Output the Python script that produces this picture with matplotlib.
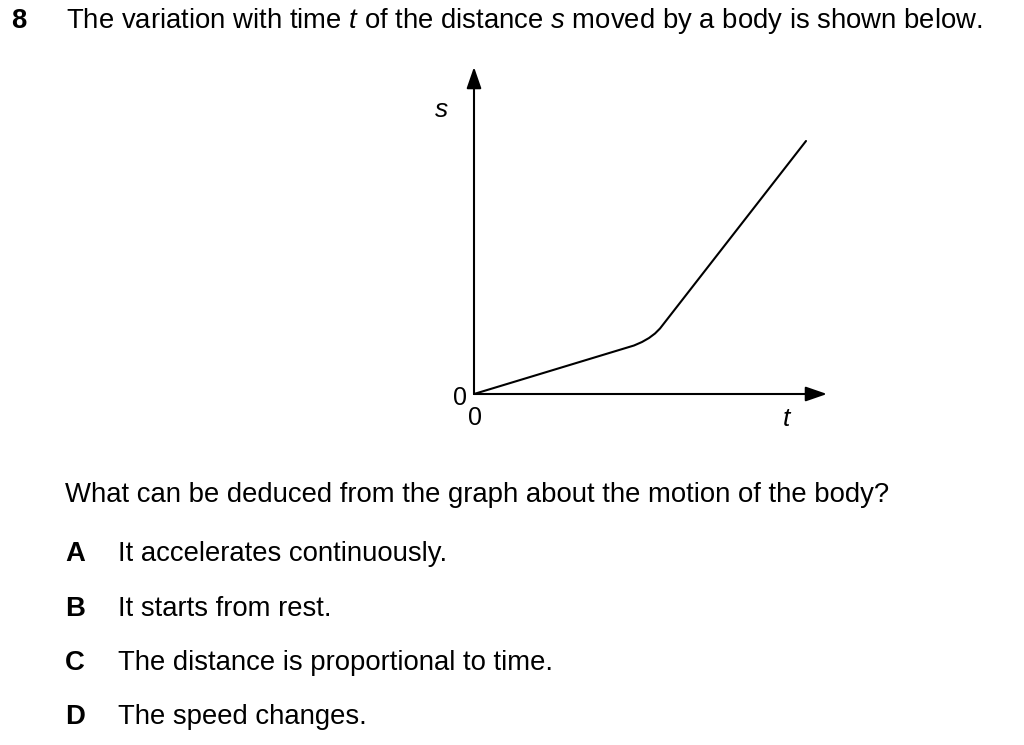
import matplotlib
matplotlib.use("Agg")
import matplotlib.pyplot as plt

plt.rcParams['font.family'] = ['Liberation Sans', 'DejaVu Sans']
plt.rcParams['mathtext.fontset'] = 'custom'
plt.rcParams['mathtext.rm'] = 'Liberation Sans'
plt.rcParams['mathtext.it'] = 'Liberation Sans:italic'

# Data (arbitrary units)
t_values = [0, 16.0, 16.8, 17.5, 18.1, 18.6, 33.2]
s_values = [0, 4.85, 5.2, 5.6, 6.05, 6.55, 25.3]
t_max = 35.3
s_max = 32.7

question_number = "8"
header = "The variation with time $t$ of the distance $s$ moved by a body is shown below."
question = "What can be deduced from the graph about the motion of the body?"
option_letters = ["A", "B", "C", "D"]
option_texts = ["It accelerates continuously.",
                "It starts from rest.",
                "The distance is proportional to time.",
                "The speed changes."]

W, H = 1024, 745
fig = plt.figure(figsize=(W / 100, H / 100), dpi=100)
fig.patch.set_facecolor('white')

def fx(px):
    return px / W

def fy(py):
    return 1 - py / H

# graph axes: origin at pixel (474, 394), arrow tips at x=827, y=67
ax = fig.add_axes([fx(474), fy(394), (827 - 474) / W, (394 - 67) / H])
ax.set_xlim(0, t_max)
ax.set_ylim(0, s_max)
ax.axis('off')
ax.plot(t_values, s_values, color='black', lw=1.5, solid_capstyle='round',
        solid_joinstyle='round', clip_on=False)

arrow_kw = dict(arrowstyle='-|>,head_length=1.3,head_width=0.45', color='black',
                lw=1.5, shrinkA=0, shrinkB=0)
ax.annotate('', xy=(1, 0), xytext=(0, 0), xycoords='axes fraction',
            textcoords='axes fraction', arrowprops=arrow_kw)
ax.annotate('', xy=(0, 1), xytext=(0, 0), xycoords='axes fraction',
            textcoords='axes fraction', arrowprops=arrow_kw)

fs = 19.8
# axis labels
fig.text(fx(441), fy(117), '$s$', fontsize=19, ha='center', va='baseline')
fig.text(fx(787), fy(426), '$t$', fontsize=19, ha='center', va='baseline')
fig.text(fx(460), fy(405), '0', fontsize=18, ha='center', va='baseline')
fig.text(fx(475), fy(425), '0', fontsize=18, ha='center', va='baseline')

# header
fig.text(fx(11), fy(28), question_number, fontsize=fs, fontweight='bold',
         ha='left', va='baseline')
fig.text(fx(66), fy(28), header, fontsize=fs, ha='left', va='baseline')

# question
fig.text(fx(65), fy(502), question, fontsize=fs, ha='left', va='baseline')

baselines = [561, 615.5, 669.5, 723.5]
for letter, txt, by in zip(option_letters, option_texts, baselines):
    fig.text(fx(65), fy(by), letter, fontsize=fs, fontweight='bold',
             ha='left', va='baseline')
    fig.text(fx(118), fy(by), txt, fontsize=fs, ha='left', va='baseline')

fig.savefig('out.png', dpi=100, facecolor='white')
